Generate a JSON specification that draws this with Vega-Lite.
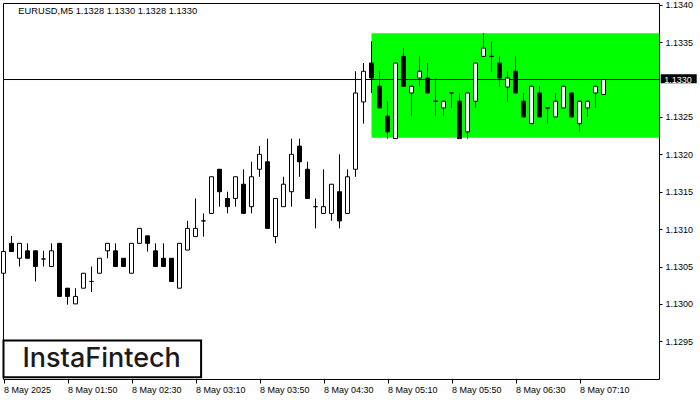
{
  "$schema": "https://vega.github.io/schema/vega-lite/v6.json",
  "autosize": "none",
  "width": 656,
  "height": 376,
  "padding": {"left": 3, "top": 3, "right": 41, "bottom": 21},
  "background": "white",
  "config": {
    "view": {"stroke": "black", "strokeWidth": 1},
    "font": "Liberation Sans"
  },
  "datasets": {
    "candles": [
      {"i":0,"time":"01:10","o":1.13041,"h":1.13070,"l":1.13041,"c":1.13070},
      {"i":1,"time":"01:15","o":1.13081,"h":1.13091,"l":1.13070,"c":1.13070},
      {"i":2,"time":"01:20","o":1.13061,"h":1.13081,"l":1.13050,"c":1.13081},
      {"i":3,"time":"01:25","o":1.13071,"h":1.13081,"l":1.13061,"c":1.13061},
      {"i":4,"time":"01:30","o":1.13071,"h":1.13071,"l":1.13030,"c":1.13050},
      {"i":5,"time":"01:35","o":1.13060,"h":1.13071,"l":1.13050,"c":1.13060},
      {"i":6,"time":"01:40","o":1.13050,"h":1.13081,"l":1.13050,"c":1.13071},
      {"i":7,"time":"01:45","o":1.13081,"h":1.13081,"l":1.13010,"c":1.13010},
      {"i":8,"time":"01:50","o":1.13021,"h":1.13021,"l":1.12999,"c":1.13010},
      {"i":9,"time":"01:55","o":1.13000,"h":1.13021,"l":1.13000,"c":1.13010},
      {"i":10,"time":"02:00","o":1.13021,"h":1.13041,"l":1.13021,"c":1.13041},
      {"i":11,"time":"02:05","o":1.13030,"h":1.13050,"l":1.13016,"c":1.13030},
      {"i":12,"time":"02:10","o":1.13041,"h":1.13061,"l":1.13041,"c":1.13061},
      {"i":13,"time":"02:15","o":1.13071,"h":1.13081,"l":1.13061,"c":1.13081},
      {"i":14,"time":"02:20","o":1.13071,"h":1.13081,"l":1.13050,"c":1.13050},
      {"i":15,"time":"02:25","o":1.13061,"h":1.13061,"l":1.13050,"c":1.13050},
      {"i":16,"time":"02:30","o":1.13041,"h":1.13081,"l":1.13041,"c":1.13081},
      {"i":17,"time":"02:35","o":1.13081,"h":1.13101,"l":1.13081,"c":1.13101},
      {"i":18,"time":"02:40","o":1.13091,"h":1.13091,"l":1.13070,"c":1.13081},
      {"i":19,"time":"02:45","o":1.13071,"h":1.13081,"l":1.13050,"c":1.13050},
      {"i":20,"time":"02:50","o":1.13061,"h":1.13081,"l":1.13050,"c":1.13050},
      {"i":21,"time":"02:55","o":1.13061,"h":1.13061,"l":1.13030,"c":1.13030},
      {"i":22,"time":"03:00","o":1.13021,"h":1.13081,"l":1.13021,"c":1.13081},
      {"i":23,"time":"03:05","o":1.13072,"h":1.13111,"l":1.13072,"c":1.13101},
      {"i":24,"time":"03:10","o":1.13090,"h":1.13141,"l":1.13090,"c":1.13101},
      {"i":25,"time":"03:15","o":1.13111,"h":1.13121,"l":1.13090,"c":1.13111},
      {"i":26,"time":"03:20","o":1.13121,"h":1.13170,"l":1.13121,"c":1.13170},
      {"i":27,"time":"03:25","o":1.13180,"h":1.13180,"l":1.13130,"c":1.13150},
      {"i":28,"time":"03:30","o":1.13141,"h":1.13150,"l":1.13121,"c":1.13130},
      {"i":29,"time":"03:35","o":1.13141,"h":1.13170,"l":1.13130,"c":1.13170},
      {"i":30,"time":"03:40","o":1.13160,"h":1.13180,"l":1.13121,"c":1.13121},
      {"i":31,"time":"03:45","o":1.13130,"h":1.13190,"l":1.13121,"c":1.13170},
      {"i":32,"time":"03:50","o":1.13180,"h":1.13211,"l":1.13170,"c":1.13200},
      {"i":33,"time":"03:55","o":1.13190,"h":1.13221,"l":1.13101,"c":1.13101},
      {"i":34,"time":"04:00","o":1.13090,"h":1.13141,"l":1.13081,"c":1.13141},
      {"i":35,"time":"04:05","o":1.13130,"h":1.13170,"l":1.13130,"c":1.13160},
      {"i":36,"time":"04:10","o":1.13150,"h":1.13221,"l":1.13130,"c":1.13200},
      {"i":37,"time":"04:15","o":1.13211,"h":1.13221,"l":1.13170,"c":1.13190},
      {"i":38,"time":"04:20","o":1.13180,"h":1.13190,"l":1.13141,"c":1.13141},
      {"i":39,"time":"04:25","o":1.13130,"h":1.13141,"l":1.13101,"c":1.13130},
      {"i":40,"time":"04:30","o":1.13121,"h":1.13180,"l":1.13121,"c":1.13130},
      {"i":41,"time":"04:35","o":1.13121,"h":1.13160,"l":1.13111,"c":1.13160},
      {"i":42,"time":"04:40","o":1.13150,"h":1.13200,"l":1.13101,"c":1.13111},
      {"i":43,"time":"04:45","o":1.13121,"h":1.13180,"l":1.13121,"c":1.13170},
      {"i":44,"time":"04:50","o":1.13180,"h":1.13311,"l":1.13170,"c":1.13282},
      {"i":45,"time":"04:55","o":1.13270,"h":1.13322,"l":1.13241,"c":1.13311},
      {"i":46,"time":"05:00","o":1.13322,"h":1.13351,"l":1.13282,"c":1.13302},
      {"i":47,"time":"05:05","o":1.13291,"h":1.13311,"l":1.13262,"c":1.13262},
      {"i":48,"time":"05:10","o":1.13251,"h":1.13271,"l":1.13221,"c":1.13230},
      {"i":49,"time":"05:15","o":1.13221,"h":1.13322,"l":1.13221,"c":1.13322},
      {"i":50,"time":"05:20","o":1.13331,"h":1.13342,"l":1.13291,"c":1.13291},
      {"i":51,"time":"05:25","o":1.13282,"h":1.13291,"l":1.13251,"c":1.13291},
      {"i":52,"time":"05:30","o":1.13302,"h":1.13331,"l":1.13291,"c":1.13311},
      {"i":53,"time":"05:35","o":1.13302,"h":1.13322,"l":1.13282,"c":1.13282},
      {"i":54,"time":"05:40","o":1.13271,"h":1.13302,"l":1.13251,"c":1.13271},
      {"i":55,"time":"05:45","o":1.13262,"h":1.13271,"l":1.13251,"c":1.13271},
      {"i":56,"time":"05:50","o":1.13282,"h":1.13282,"l":1.13262,"c":1.13282},
      {"i":57,"time":"05:55","o":1.13271,"h":1.13282,"l":1.13221,"c":1.13221},
      {"i":58,"time":"06:00","o":1.13230,"h":1.13282,"l":1.13221,"c":1.13282},
      {"i":59,"time":"06:05","o":1.13271,"h":1.13322,"l":1.13262,"c":1.13322},
      {"i":60,"time":"06:10","o":1.13331,"h":1.13362,"l":1.13331,"c":1.13342},
      {"i":61,"time":"06:15","o":1.13331,"h":1.13351,"l":1.13310,"c":1.13331},
      {"i":62,"time":"06:20","o":1.13322,"h":1.13331,"l":1.13290,"c":1.13302},
      {"i":63,"time":"06:25","o":1.13290,"h":1.13311,"l":1.13270,"c":1.13302},
      {"i":64,"time":"06:30","o":1.13311,"h":1.13331,"l":1.13282,"c":1.13282},
      {"i":65,"time":"06:35","o":1.13271,"h":1.13282,"l":1.13250,"c":1.13250},
      {"i":66,"time":"06:40","o":1.13241,"h":1.13291,"l":1.13241,"c":1.13291},
      {"i":67,"time":"06:45","o":1.13282,"h":1.13291,"l":1.13250,"c":1.13250},
      {"i":68,"time":"06:50","o":1.13262,"h":1.13262,"l":1.13241,"c":1.13262},
      {"i":69,"time":"06:55","o":1.13250,"h":1.13282,"l":1.13250,"c":1.13271},
      {"i":70,"time":"07:00","o":1.13262,"h":1.13291,"l":1.13262,"c":1.13291},
      {"i":71,"time":"07:05","o":1.13282,"h":1.13282,"l":1.13250,"c":1.13250},
      {"i":72,"time":"07:10","o":1.13241,"h":1.13271,"l":1.13230,"c":1.13271},
      {"i":73,"time":"07:15","o":1.13262,"h":1.13271,"l":1.13250,"c":1.13271},
      {"i":74,"time":"07:20","o":1.13282,"h":1.13291,"l":1.13262,"c":1.13291},
      {"i":75,"time":"07:25","o":1.13280,"h":1.13300,"l":1.13280,"c":1.13300}
    ]
  },
  "layer": [
    {
      "data": {"values": [{}]},
      "mark": {"type": "rect", "color": "#00ff00"},
      "encoding": {
        "x": {"datum": 46, "type": "quantitative", "scale": {"domain": [-0.0625, 81.9375], "nice": false, "zero": false, "padding": 0},
          "axis": {"values": [0, 8, 16, 24, 32, 40, 48, 56, 64, 72], "title": null, "grid": false, "domain": false,
            "tickSize": 4, "tickColor": "black", "labelAlign": "left", "labelBaseline": "top", "labelPadding": 2,
            "labelFontSize": 9, "labelColor": "black", "labelFont": "Liberation Sans", "labelOverlap": false, "labelFlush": false, "labelBound": false,
            "labelExpr": "['8 May 2025','8 May 01:50','8 May 02:30','8 May 03:10','8 May 03:50','8 May 04:30','8 May 05:10','8 May 05:50','8 May 06:30','8 May 07:10'][round(datum.value/8)]"}},
        "x2": {"datum": 81.9375},
        "y": {"datum": 1.13362, "type": "quantitative", "scale": {"domain": [1.128996, 1.134023], "nice": false, "zero": false, "padding": 0},
          "axis": {"orient": "right", "values": [1.1295, 1.13, 1.1305, 1.131, 1.1315, 1.132, 1.1325, 1.1335, 1.134],
            "format": ".4f", "title": null, "grid": false, "domain": false, "tickSize": 3, "tickColor": "black",
            "labelPadding": 3, "labelFontSize": 9, "labelColor": "black", "labelFont": "Liberation Sans", "labelOverlap": false, "labelBound": false}},
        "y2": {"datum": 1.13222}
      }
    },
    {
      "data": {"values": [{}]},
      "mark": {"type": "rule", "color": "black", "strokeWidth": 1},
      "encoding": {"y": {"datum": 1.1330, "type": "quantitative"}}
    },
    {
      "data": {"name": "candles"},
      "mark": {"type": "rule", "color": "black", "strokeWidth": 1},
      "encoding": {
        "x": {"field": "i", "type": "quantitative"},
        "y": {"field": "l", "type": "quantitative"},
        "y2": {"field": "h"}
      }
    },
    {
      "data": {"name": "candles"},
      "mark": {"type": "bar", "width": 4, "stroke": "black", "strokeWidth": 1, "orient": "vertical"},
      "encoding": {
        "x": {"field": "i", "type": "quantitative"},
        "y": {"field": "o", "type": "quantitative"},
        "y2": {"field": "c"},
        "fill": {"condition": {"test": "datum.c >= datum.o", "value": "white"}, "value": "black"}
      }
    },
    {
      "data": {"values": [{}]},
      "mark": {"type": "text", "text": "EURUSD,M5  1.1328 1.1330 1.1328 1.1330", "align": "left", "baseline": "middle", "fontSize": 9.3, "font": "Liberation Sans", "color": "black"},
      "encoding": {"x": {"datum": 1.85, "type": "quantitative"}, "y": {"datum": 1.13392, "type": "quantitative"}}
    },
    {
      "data": {"values": [{}]},
      "mark": {"type": "rect", "fill": "white", "stroke": "black", "strokeWidth": 2},
      "encoding": {
        "x": {"datum": 0.0, "type": "quantitative"}, "x2": {"datum": 24.7},
        "y": {"datum": 1.12951, "type": "quantitative"}, "y2": {"datum": 1.12902}
      }
    },
    {
      "data": {"values": [{}]},
      "mark": {"type": "text", "text": "InstaFintech", "align": "center", "baseline": "middle", "fontSize": 27, "font": "Inter", "fontWeight": 500, "color": "#1a1a1a"},
      "encoding": {"x": {"datum": 12.27, "type": "quantitative"}, "y": {"datum": 1.12927, "type": "quantitative"}}
    },
    {
      "data": {"values": [{}]},
      "mark": {"type": "rect", "fill": "black", "clip": false},
      "encoding": {
        "x": {"datum": 82.15, "type": "quantitative"}, "x2": {"datum": 86.65},
        "y": {"datum": 1.13307, "type": "quantitative"}, "y2": {"datum": 1.13295}
      }
    },
    {
      "data": {"values": [{}]},
      "mark": {"type": "text", "text": "1.1330", "align": "left", "baseline": "middle", "fontSize": 9, "font": "Liberation Sans", "color": "white", "clip": false},
      "encoding": {"x": {"datum": 82.6, "type": "quantitative"}, "y": {"datum": 1.1330, "type": "quantitative"}}
    }
  ]
}
